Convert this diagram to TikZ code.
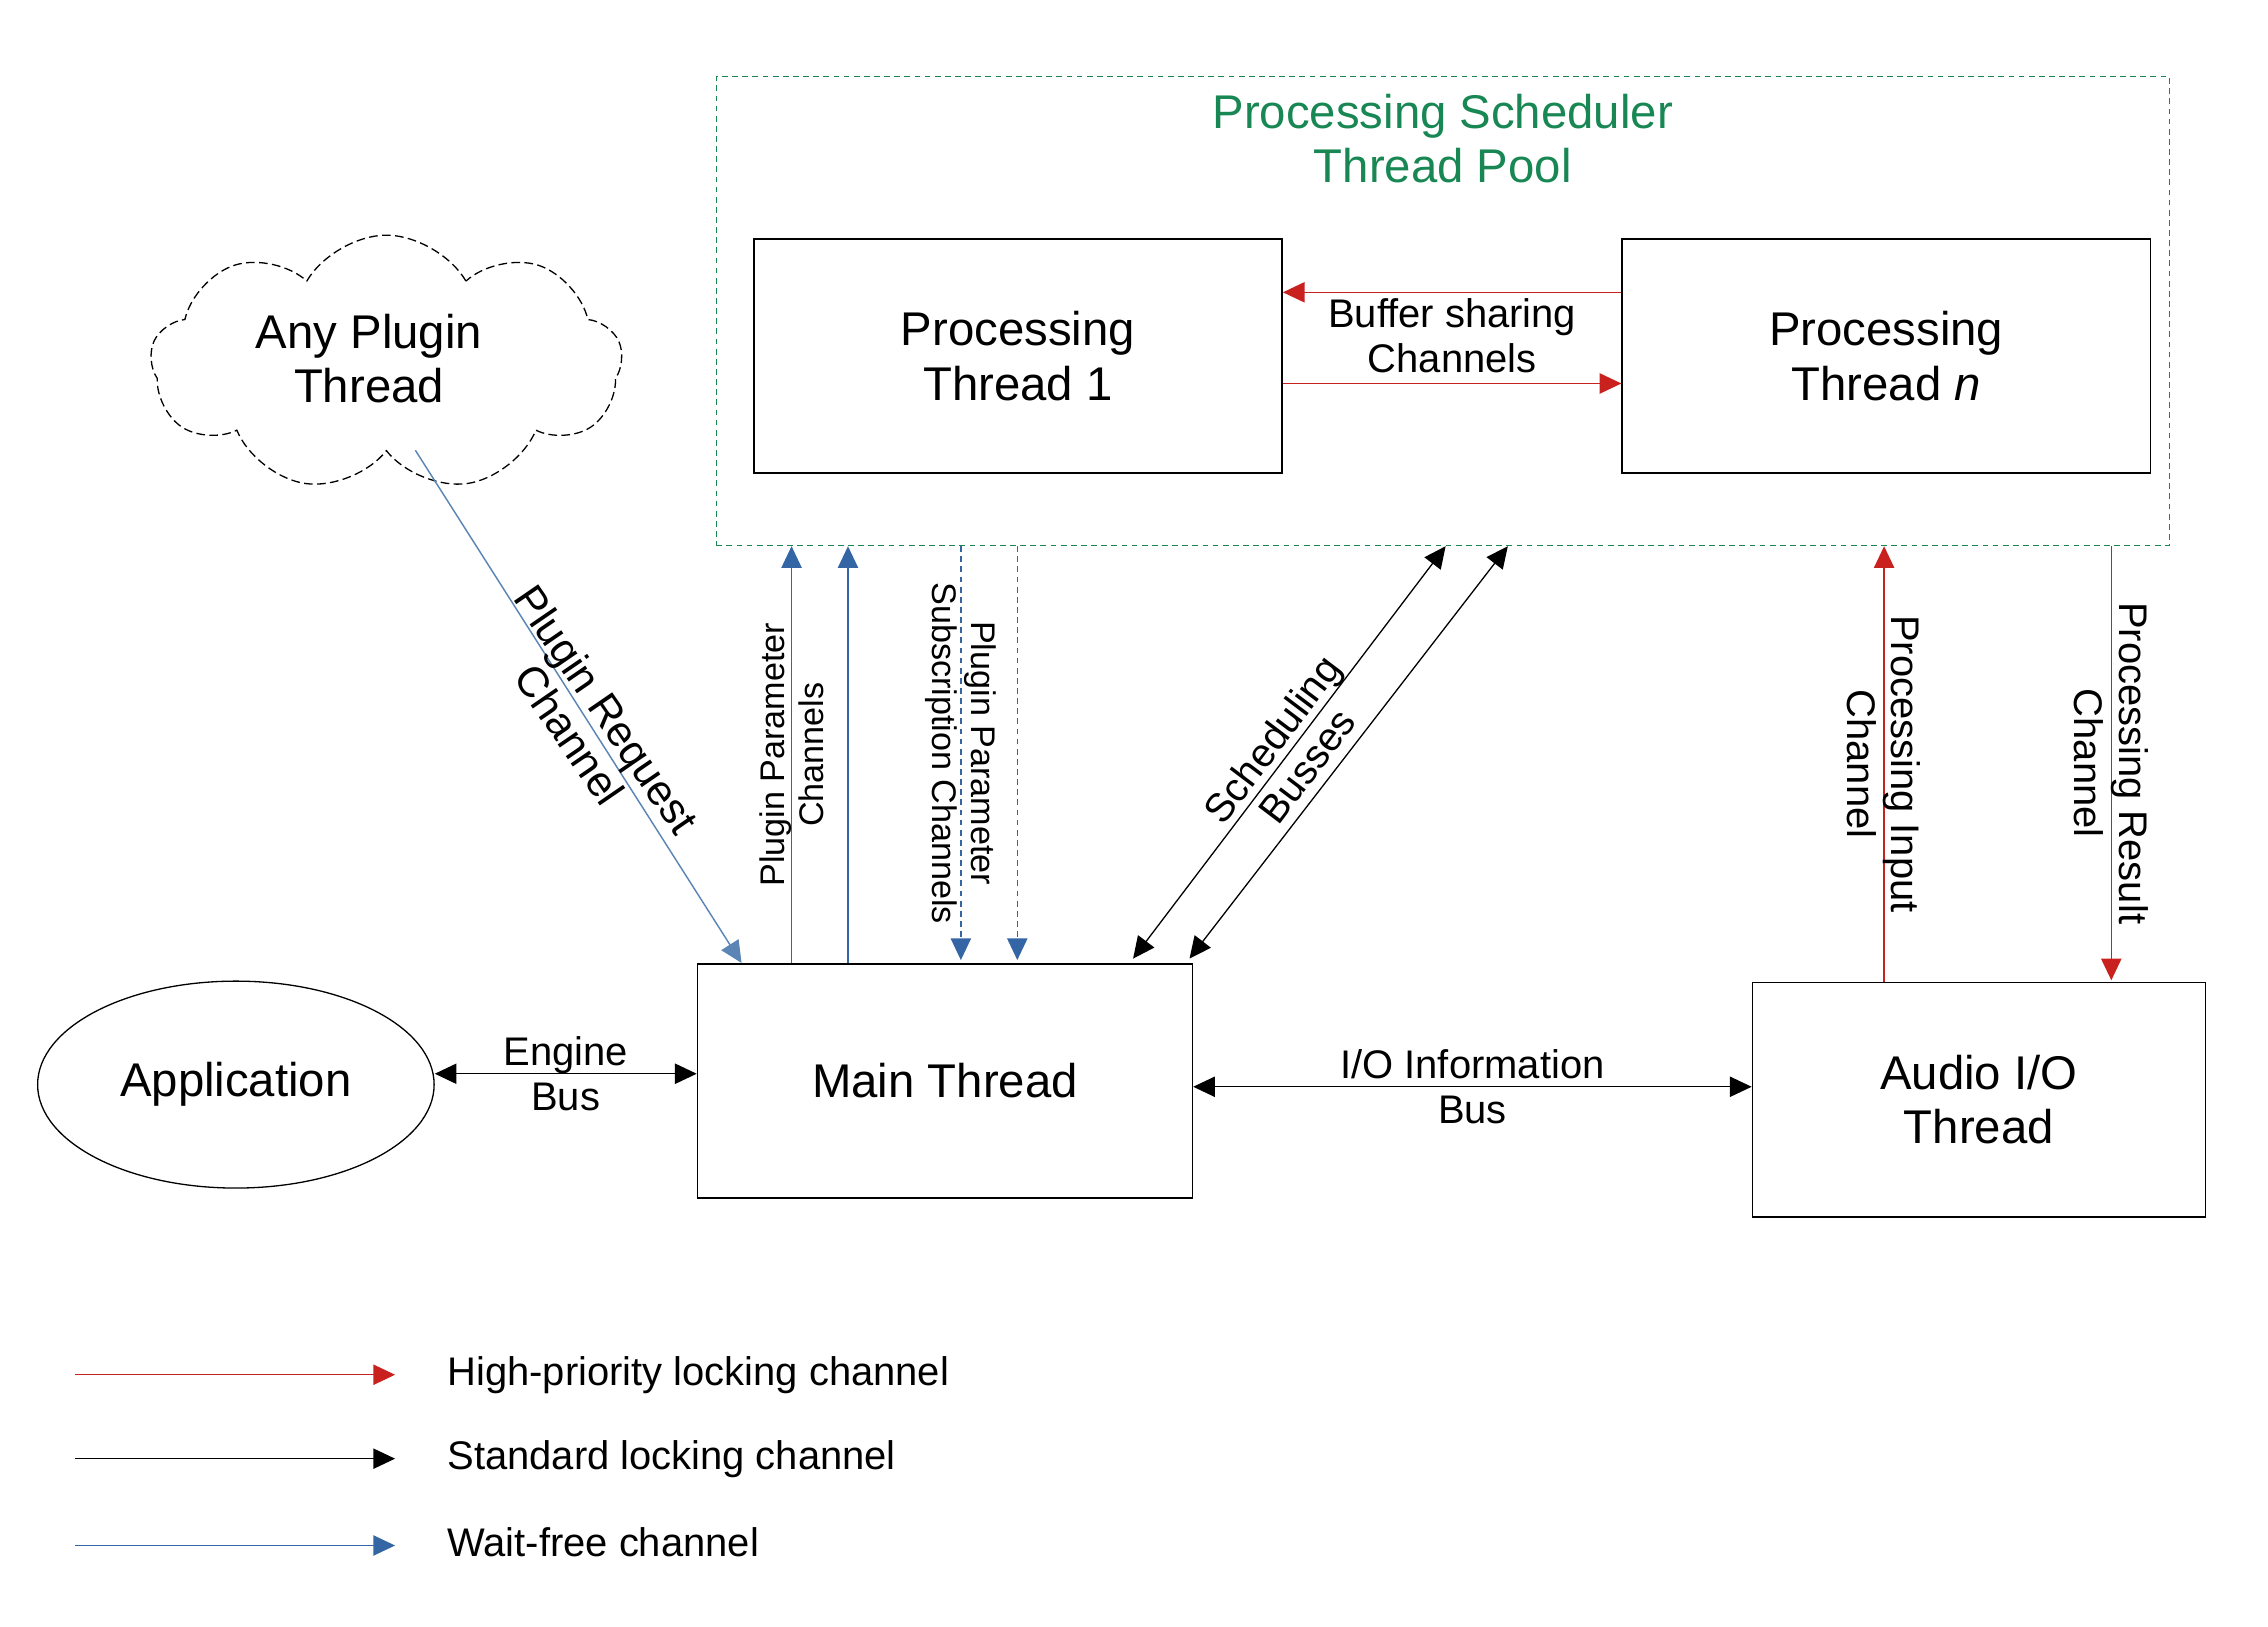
\documentclass[tikz,border=0pt]{standalone}
\usepackage{fontspec}
\setmainfont{Liberation Sans}
\usetikzlibrary{arrows.meta,shapes.geometric,shapes.symbols,calc}
\definecolor{hpred}{HTML}{C9211E}
\definecolor{wfblue}{HTML}{3465A4}
\definecolor{reqblue}{HTML}{5A85B5}
\definecolor{poolgreen}{RGB}{24,135,84}
\tikzset{
  big/.style={font=\fontsize{32.7}{37.5}\selectfont, align=center},
  mid/.style={font=\fontsize{27.6}{30.5}\selectfont, align=center, text=black},
  reqfont/.style={font=\fontsize{29.5}{31}\selectfont, align=center, text=black},
  small/.style={font=\fontsize{23.6}{27}\selectfont, align=center, text=black},
  thread/.style={draw, line width=1.1pt, rectangle, big, inner sep=0pt},
  tip/.style={-{Triangle[length=15pt,width=14pt]}},
  bitip/.style={{Triangle[length=15pt,width=14pt]}-{Triangle[length=15pt,width=14pt]}},
  hp/.style={draw=hpred, line width=1pt, tip},
  std/.style={draw=black, line width=0.9pt},
  wf/.style={draw=wfblue, line width=1pt, tip},
  wfdash/.style={wf, dash pattern=on 4pt off 3pt},
}
\begin{document}
\begin{tikzpicture}[x=1pt,y=-1pt]
\useasboundingbox (0,0) rectangle (1567.3,1124.3);
% pool
\node[draw=poolgreen, line width=0.9pt, dash pattern=on 4pt off 3pt, rectangle,
      minimum width=1004pt, minimum height=324pt, inner sep=0pt] (pool) at (997,215) {};
\node[big, text=poolgreen] (pooltitle) at (997,96) {Processing Scheduler\\Thread Pool};
% threads
\node[thread, minimum width=365pt, minimum height=162pt] (pt1) at (703.5,246) {Processing\\Thread 1};
\node[thread, minimum width=365pt, minimum height=162pt] (ptn) at (1303.5,246) {Processing\\Thread \textit{n}};
\node[thread, minimum width=342pt, minimum height=162pt] (main) at (653,747) {Main Thread};
\node[thread, minimum width=313pt, minimum height=162pt] (audio) at (1367.5,760) {Audio I/O\\Thread};
\node[draw, line width=0.9pt, ellipse, big, minimum width=274pt, minimum height=143pt, inner sep=0pt] (app) at (163,749.5) {Application};
\node[draw, line width=0.9pt, dash pattern=on 6pt off 3pt, cloud, cloud puffs=9, cloud puff arc=120,
      cloud ignores aspect, minimum width=326pt, minimum height=177pt, inner sep=0pt] (cloud) at (267,251) {};
\node[big] (cloudtext) at (255,248) {Any Plugin\\Thread};
% buffer sharing
\draw[hp] ($(ptn.west)+(0,-44)$) -- ($(pt1.east)+(0,-44)$);
\draw[hp] ($(pt1.east)+(0,19)$) -- ($(ptn.west)+(0,19)$);
\node[mid] (buflabel) at ($(pt1.east)!0.5!(ptn.west)+(0,-14)$) {Buffer sharing\\Channels};
% engine bus
\draw[std, bitip] ($(app.east)+(0,-7.5)$) -- node[mid] {Engine\\Bus} ($(main.west)+(0,-5)$);
% io bus
\draw[std, bitip] ($(main.east)+(0,4)$) -- node[mid] {I/O Information\\Bus} ($(audio.west)+(0,-9)$);
% plugin parameter channels
\draw[wf] ($(main.north)+(-106,0)$) -- node[small, rotate=90] {Plugin Parameter\\Channels} ($(pool.south)+(-450,0)$);
\draw[wf] ($(main.north)+(-67,0)$) -- ($(pool.south)+(-411,0)$);
% subscription channels
\draw[wfdash] ($(pool.south)+(-333,0)$) -- node[small, rotate=-90] {Plugin Parameter\\Subscription Channels} ($(main.north)+(11,-2)$);
\draw[wfdash] ($(pool.south)+(-294,0)$) -- ($(main.north)+(50,-2)$);
% scheduling busses
\draw[std, bitip] ($(main.north)+(130,-3)$) -- node[mid, rotate=52.9] {Scheduling\\Busses} ($(pool.south)+(2,0)$);
\draw[std, bitip] ($(main.north)+(169,-3)$) -- ($(pool.south)+(45,0)$);
% processing channels
\draw[hp] ($(audio.north)+(-65.5,0)$) -- node[mid, rotate=-90] {Processing Input\\Channel} ($(pool.south)+(305,0)$);
\draw[hp] ($(pool.south)+(462,0)$) -- node[mid, rotate=-90] {Processing Result\\Channel} ($(audio.north)+(91.5,-1)$);
% plugin request
\draw[draw=reqblue, line width=1pt, tip] ($(cloud.south)+(20,-1)$) -- node[reqfont, rotate=-55.5, pos=0.53] {Plugin Request\\Channel} ($(main.north west)+(31,0)$);
% legend
\coordinate (l1a) at (52,950); \coordinate (l1b) at (273,950);
\coordinate (l2a) at (52,1008); \coordinate (l2b) at (273,1008);
\coordinate (l3a) at (52,1068); \coordinate (l3b) at (273,1068);
\draw[hp] (l1a) -- (l1b);
\draw[std, tip] (l2a) -- (l2b);
\draw[wf] (l3a) -- (l3b);
\node[mid, anchor=west, inner sep=0pt] (lt1) at (309,950) {High-priority locking channel};
\node[mid, anchor=west, inner sep=0pt] (lt2) at (309,1008) {Standard locking channel};
\node[mid, anchor=west, inner sep=0pt] (lt3) at (309,1066) {Wait-free channel};
\end{tikzpicture}
\end{document}
